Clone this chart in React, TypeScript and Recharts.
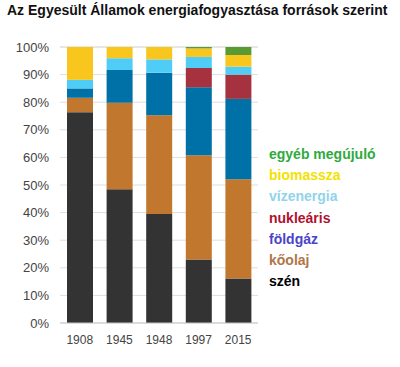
import { Bar, BarChart, CartesianGrid, XAxis, YAxis } from "recharts";

const YEARS = ["1908", "1945", "1948", "1997", "2015"];
const COAL = [76.4, 48.5, 39.5, 23.0, 16.1];
const OIL = [5.2, 31.3, 35.8, 37.8, 36.0];
const GAS = [3.4, 11.9, 15.4, 24.6, 29.1];
const NUCLEAR = [0, 0, 0, 7.0, 8.8];
const HYDRO = [3.1, 4.2, 4.8, 4.0, 2.9];
const BIOMASS = [11.9, 4.1, 4.5, 3.1, 4.2];
const OTHER = [0, 0, 0, 0.5, 2.9];
const Y_TICKS = [0, 10, 20, 30, 40, 50, 60, 70, 80, 90, 100];

const SERIES = [
  { key: "coal", label: "szén", fill: "#333333", text: "#000000" },
  { key: "oil", label: "kőolaj", fill: "#c2772e", text: "#b0764a" },
  { key: "gas", label: "földgáz", fill: "#0071a6", text: "#4a44c8" },
  { key: "nuclear", label: "nukleáris", fill: "#a6313f", text: "#b0122e" },
  { key: "hydro", label: "vízenergia", fill: "#4fcdf7", text: "#93d3ea" },
  { key: "biomass", label: "biomassza", fill: "#f8c61c", text: "#f2e200" },
  { key: "other", label: "egyéb megújuló", fill: "#5a9a33", text: "#2eaa3e" },
];

const data = YEARS.map((year, i) => ({
  year,
  coal: COAL[i],
  oil: OIL[i],
  gas: GAS[i],
  nuclear: NUCLEAR[i],
  hydro: HYDRO[i],
  biomass: BIOMASS[i],
  other: OTHER[i],
}));

const FONT = '"Liberation Sans", Arial, sans-serif';

// legend is plain text, top entry = top of the stack
function LegendBox() {
  return (
    <div
      style={{
        position: "absolute", left: 269, top: 144,
        fontFamily: FONT, fontWeight: "bold", fontSize: 14,
      }}
    >
      {[...SERIES].reverse().map((s) => (
        <div key={s.key} style={{ color: s.text, height: 21.2, lineHeight: "21px" }}>
          {s.label}
        </div>
      ))}
    </div>
  );
}

export default function App() {
  return (
    <div style={{ position: "absolute", left: 0, top: 0, width: 400, height: 367, background: "#fff" }}>
      <div
        style={{
          position: "absolute", left: 7, top: 2, fontFamily: FONT,
          fontWeight: "bold", fontSize: 14, color: "#111", whiteSpace: "nowrap",
        }}
      >
        Az Egyesült Államok energiafogyasztása források szerint
      </div>
      <BarChart
        width={400}
        height={367}
        data={data}
        margin={{ top: 47, right: 142, left: 0, bottom: 14 }}
        barSize={26}
      >
        <CartesianGrid stroke="#dedede" vertical={false} />
        <XAxis
          dataKey="year"
          tickLine={false}
          axisLine={{ stroke: "#c8c8c8" }}
          height={30}
          tickMargin={6}
          interval={0}
          tick={{ fontSize: 12, fill: "#444", fontFamily: FONT }}
        />
        <YAxis
          width={60}
          domain={[0, 100]}
          ticks={Y_TICKS}
          tickFormatter={(v) => `${v}%`}
          tickLine={false}
          axisLine={false}
          tickMargin={5}
          interval={0}
          tick={{ fontSize: 13, fill: "#444", fontFamily: FONT }}
        />
        {SERIES.map((s) => (
          <Bar
            key={s.key}
            dataKey={s.key}
            stackId="a"
            fill={s.fill}
            isAnimationActive={false}
          />
        ))}
      </BarChart>
      <LegendBox />
    </div>
  );
}
